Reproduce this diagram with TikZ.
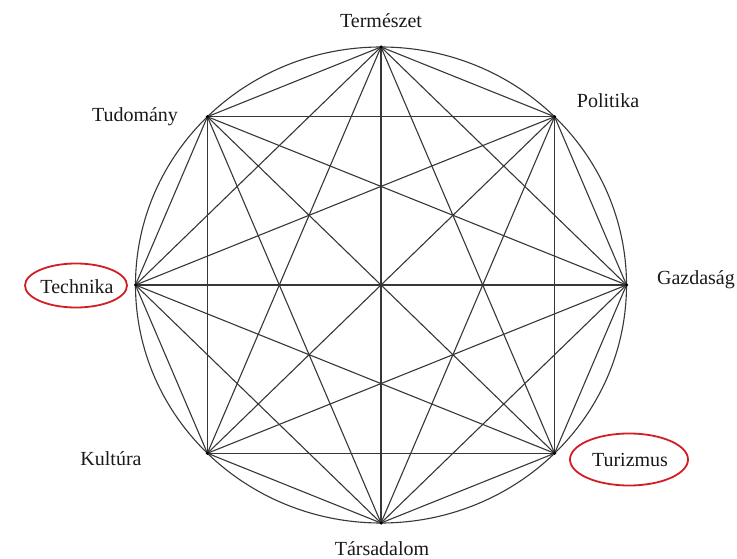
\documentclass[tikz,border=0pt]{standalone}
\usepackage{fontspec}
\setmainfont{Liberation Serif}
\usetikzlibrary{shapes.geometric,calc}
\definecolor{edgegray}{RGB}{55,55,55}
\definecolor{ringred}{RGB}{210,30,35}
\tikzset{
  edge/.style={draw=edgegray, line width=1.1pt},
  vert/.style={circle, fill=black, inner sep=0pt, minimum size=3.5pt},
  lbl/.style={font=\fontsize{20}{22}\selectfont, text=black!90, inner sep=0pt},
  ring/.style={draw=ringred, line width=1.8pt, ellipse, inner sep=0pt}
}
\begin{document}
\begin{tikzpicture}[x=1pt,y=-1pt]
\useasboundingbox (0,0) rectangle (737,559);
\coordinate (C) at (381,285);
\def\rx{245.5}\def\ry{238}
\foreach \n/\a in {T/90, P/45, G/0, Tu/-45, S/-90, K/-135, Te/180, Td/135}{
  \coordinate (\n) at ($(C)+({\rx*cos(\a)},{-\ry*sin(\a)})$);
}
\draw[edge] (C) ellipse [x radius=\rx, y radius=\ry];
\foreach \a/\b in {T/P,T/G,T/Tu,T/S,T/K,T/Te,T/Td,
                   P/G,P/Tu,P/S,P/K,P/Te,P/Td,
                   G/Tu,G/S,G/K,G/Te,G/Td,
                   Tu/S,Tu/K,Tu/Te,Tu/Td,
                   S/K,S/Te,S/Td,
                   K/Te,K/Td,
                   Te/Td}{
  \draw[edge] (\a) -- (\b);
}
\foreach \n in {T,P,G,Tu,S,K,Te,Td}{ \node[vert] at (\n) {}; }
\node[lbl] (lT) at (381,21) {Természet};
\node[lbl] (lS) at (382,549) {Társadalom};
\node[lbl] (lTe) at (77,287) {Technika};
\node[lbl] (lG) at (696,280) {Gazdaság};
\node[lbl] (lTd) at (135,117) {Tudomány};
\node[lbl] (lP) at (608,101) {Politika};
\node[lbl] (lK) at (111,459) {Kultúra};
\node[lbl] (lTu) at (630,460) {Turizmus};
\draw[ring] (76,285.5) ellipse [x radius=51, y radius=22];
\draw[ring] (629,459.5) ellipse [x radius=59, y radius=26];
\end{tikzpicture}
\end{document}
